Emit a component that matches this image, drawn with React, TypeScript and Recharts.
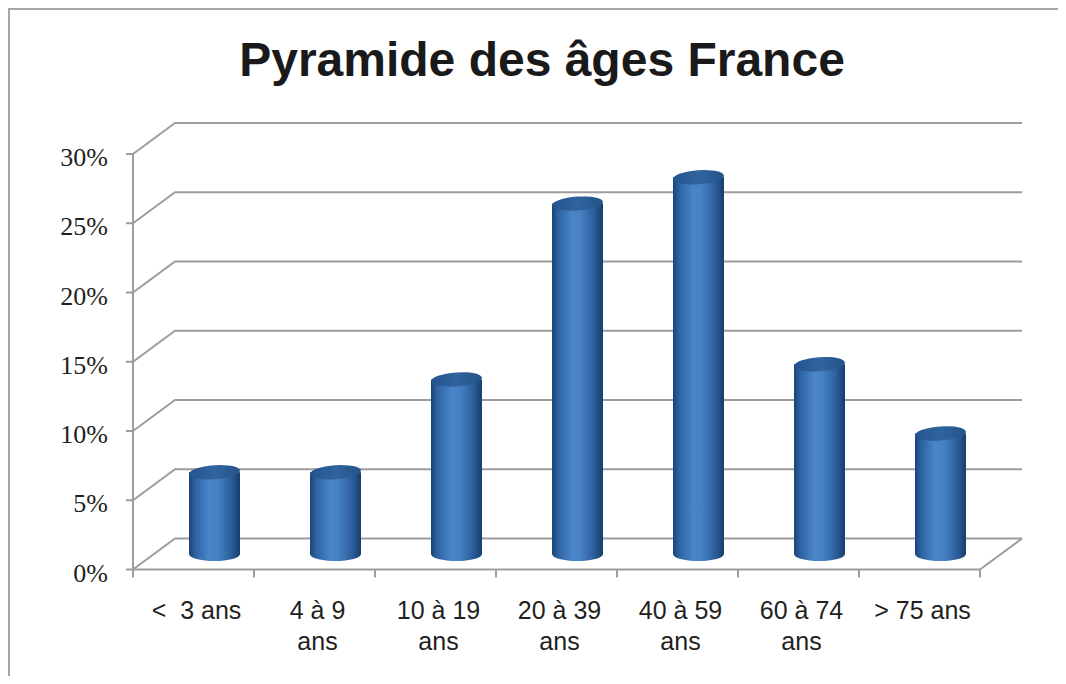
import { BarChart, Bar, XAxis, YAxis, CartesianGrid } from "recharts";

const categories = [
  "<  3 ans",
  "4 à 9\nans",
  "10 à 19\nans",
  "20 à 39\nans",
  "40 à 59\nans",
  "60 à 74\nans",
  "> 75 ans",
];
const shares = [5.9, 5.9, 12.6, 25.3, 27.2, 13.7, 8.7];
const yTicks = [0, 5, 10, 15, 20, 25, 30];

const data = categories.map((age, i) => ({ age, share: shares[i] }));

// fake 3d: depth of the back wall
const DEPTH_X = 42;
const DEPTH_Y = 31;
const GRID = "#9d9d9d";
const WIDTH = 1058;
const HEIGHT = 668;
const MARGIN = { top: 146, right: 86, bottom: 6.5, left: 0 };
const Y_AXIS_W = 125;
const X_AXIS_H = 100;
const BAND = (WIDTH - MARGIN.right - Y_AXIS_W) / categories.length;
const FLOOR_Y = HEIGHT - MARGIN.bottom - X_AXIS_H;

function WallLine(props: any) {
  const { x1, x2, y1 } = props;
  const by = y1 - DEPTH_Y;
  const isFloor = Math.abs(y1 - FLOOR_Y) < 2;
  return (
    <g key={props.key}>
      <polyline
        points={`${x1},${y1} ${x1 + DEPTH_X},${by} ${x2 + DEPTH_X},${by}`}
        fill="none"
        stroke={GRID}
        strokeWidth={2}
      />
      {isFloor && (
        <line x1={x2} y1={y1} x2={x2 + DEPTH_X} y2={by} stroke={GRID} strokeWidth={2} />
      )}
    </g>
  );
}

function Cylinder(props: any) {
  const { x, y, width, height, index } = props;
  if (!height) return null;
  const left = x + DEPTH_X / 2;
  const right = left + width;
  const cx = left + width / 2;
  const rx = width / 2;
  const ry = 7;
  const top = y - DEPTH_Y / 2;
  const bottom = y + height - DEPTH_Y / 2;
  const bodyId = `cyl-body-${index}`;
  const topId = `cyl-top-${index}`;
  return (
    <g>
      <defs>
        <linearGradient id={bodyId} x1="0" y1="0" x2="1" y2="0">
          <stop offset="0%" stopColor="#1a4475" />
          <stop offset="12%" stopColor="#2d62a1" />
          <stop offset="40%" stopColor="#4a86ca" />
          <stop offset="56%" stopColor="#4681c3" />
          <stop offset="82%" stopColor="#2c5f9c" />
          <stop offset="100%" stopColor="#173e6b" />
        </linearGradient>
        <linearGradient id={topId} x1="0" y1="0" x2="1" y2="0">
          <stop offset="0%" stopColor="#24548c" />
          <stop offset="50%" stopColor="#30649f" />
          <stop offset="100%" stopColor="#245389" />
        </linearGradient>
      </defs>
      <path
        d={`M${left},${top} L${left},${bottom} A${rx},${ry} 0 0 0 ${right},${bottom} L${right},${top} Z`}
        fill={`url(#${bodyId})`}
      />
      <ellipse
        cx={cx}
        cy={top}
        rx={rx}
        ry={ry}
        fill={`url(#${topId})`}
        transform={`rotate(-4 ${cx} ${top})`}
      />
    </g>
  );
}

function PctTick({ x, y, payload }: any) {
  return (
    <g>
      <line x1={x - 7} y1={y} x2={x} y2={y} stroke={GRID} strokeWidth={2} />
      <text
        x={x - 25}
        y={y + 12}
        textAnchor="end"
        fontFamily="'Liberation Serif', 'Times New Roman', serif"
        fontSize={26}
        fill="#231f20"
      >
        {payload.value}%
      </text>
    </g>
  );
}

function AgeTick({ x, y, payload, index }: any) {
  const lines = String(payload.value).split("\n");
  const half = BAND / 2;
  return (
    <g>
      <line x1={x - half} y1={y} x2={x - half} y2={y + 8} stroke={GRID} strokeWidth={2} />
      {index === categories.length - 1 && (
        <line x1={x + half} y1={y} x2={x + half} y2={y + 8} stroke={GRID} strokeWidth={2} />
      )}
      <text
        x={x + 3}
        y={y + 49}
        textAnchor="middle"
        fontFamily="'Liberation Sans', Arial, sans-serif"
        fontSize={25}
        fill="#231f20"
        xmlSpace="preserve"
        style={{ whiteSpace: "pre" }}
      >
        {lines.map((l, i) => (
          <tspan key={i} x={x + 3} dy={i === 0 ? 0 : 31}>
            {l}
          </tspan>
        ))}
      </text>
    </g>
  );
}

export default function App() {
  return (
    <div
      style={{
        position: "relative",
        width: WIDTH,
        height: HEIGHT,
        overflow: "hidden",
        background: "#fff",
        borderTop: "2px solid #a6a6a6",
        borderLeft: "2px solid #a6a6a6",
        boxSizing: "border-box",
      }}
    >
      <style>{`html, body { overflow: hidden; }`}</style>
      <div
        style={{
          position: "absolute",
          top: 26,
          left: 3,
          width: WIDTH,
          textAlign: "center",
          fontFamily: "'Liberation Sans', Arial, sans-serif",
          fontWeight: "bold",
          fontSize: 48,
          lineHeight: "48px",
          color: "#1a1a1a",
        }}
      >
        Pyramide des âges France
      </div>
      <BarChart
        width={WIDTH}
        height={HEIGHT}
        data={data}
        margin={MARGIN}
        style={{ position: "absolute", left: -2, top: -2 }}
      >
        <CartesianGrid vertical={false} horizontal={(p: any) => <WallLine {...p} />} />
        <XAxis
          dataKey="age"
          height={X_AXIS_H}
          interval={0}
          tickSize={0}
          tickMargin={0}
          tickLine={false}
          axisLine={{ stroke: GRID, strokeWidth: 2 }}
          tick={<AgeTick />}
        />
        <YAxis
          type="number"
          domain={[0, 30]}
          ticks={yTicks}
          width={Y_AXIS_W}
          interval={0}
          tickSize={0}
          tickMargin={0}
          tickLine={false}
          axisLine={{ stroke: GRID, strokeWidth: 2 }}
          tick={<PctTick />}
        />
        <Bar dataKey="share" barSize={51} shape={<Cylinder />} isAnimationActive={false} />
      </BarChart>
    </div>
  );
}
